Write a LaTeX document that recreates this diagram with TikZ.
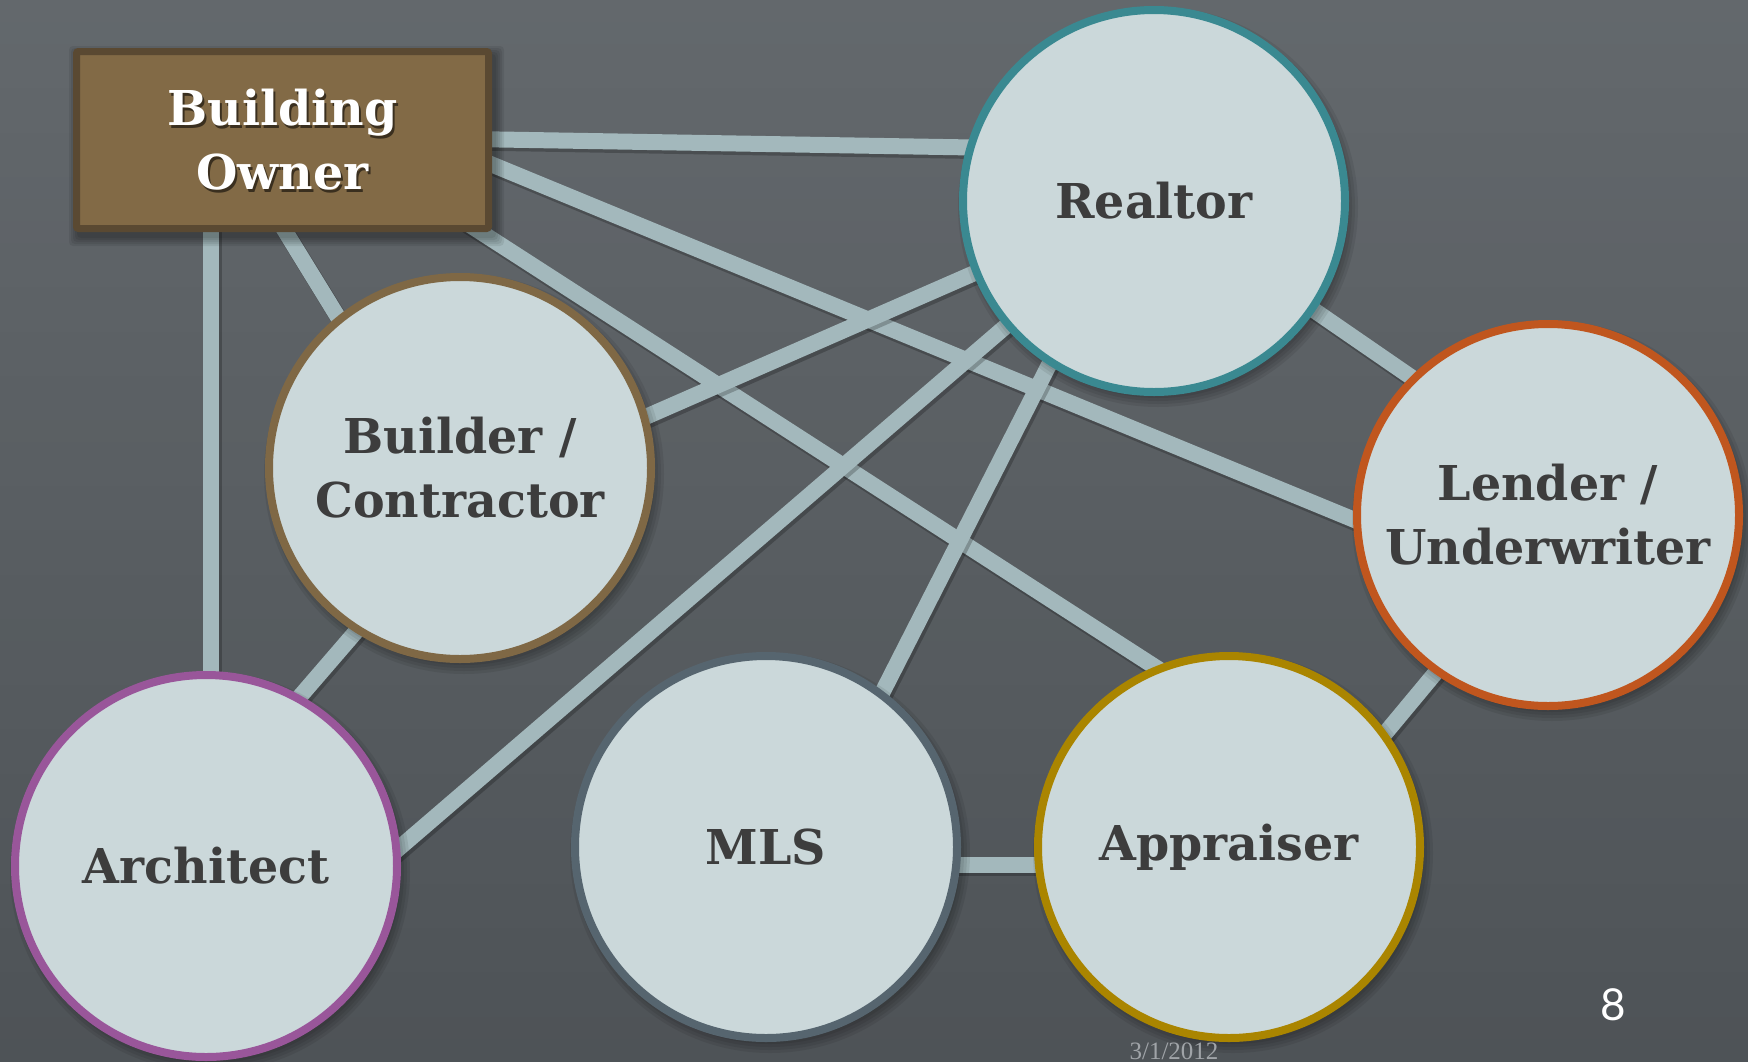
\documentclass[tikz,border=0pt]{standalone}
\usepackage{fontspec}
\setmainfont{Liberation Serif}
\newfontfamily\slabfont[FakeStretch=0.99]{DejaVu Serif}
\newfontfamily\pagefont{Lato}
\usetikzlibrary{calc}

\definecolor{bgtop}{HTML}{63686C}
\definecolor{bgbot}{HTML}{4E5357}
\definecolor{linkcol}{HTML}{A3B8BC}
\definecolor{discfill}{HTML}{CBD8DA}
\definecolor{labelcol}{HTML}{3D3D3D}
\definecolor{ownerfill}{HTML}{826A46}
\definecolor{ownerrim}{HTML}{5A4932}
\definecolor{realtorrim}{HTML}{3A8991}
\definecolor{builderrim}{HTML}{7F6845}
\definecolor{lenderrim}{HTML}{C0561E}
\definecolor{architectrim}{HTML}{99569A}
\definecolor{mlsrim}{HTML}{56656F}
\definecolor{appraiserrim}{HTML}{AA8500}
\definecolor{datecol}{HTML}{A0A4A8}

\pgfdeclarelayer{backdrop}
\pgfdeclarelayer{links}
\pgfdeclarelayer{shades}
\pgfsetlayers{backdrop,links,shades,main}

\tikzset{
  labelfont/.style={font=\slabfont\bfseries\fontsize{48}{64}\selectfont},
  disc/.style={circle, draw=#1, line width=8pt, fill=discfill,
    minimum size=382pt, inner sep=0pt, align=center, text=labelcol, labelfont},
  link/.style={line width=16pt, draw=linkcol},
  linkshade/.style={line width=17pt, draw=black, opacity=0.22,
    transform canvas={xshift=2pt, yshift=-3pt}},
  softshade/.style={fill=black, opacity=0.075},
}

% one connector: soft shade first, then the bar itself
\newcommand\joinlink[2]{%
  \draw[linkshade] #1 -- #2;
  \draw[link] #1 -- #2;}

% soft drop shadow under a round party
\newcommand\discshade[1]{%
  \foreach \k in {0,...,5}{%
    \fill[softshade] ($(#1.center)+(4,6)$) circle ({200-3*\k});}}

\begin{document}
\begin{tikzpicture}[x=1pt, y=-1pt]
\useasboundingbox (0,0) rectangle (1748,1061);

% background: dark slate, a little lighter towards the top
\begin{pgfonlayer}{backdrop}
  \foreach \i in {0,...,47}{%
    \pgfmathsetmacro\mixpct{100-\i*100/47}
    \fill[bgtop!\mixpct!bgbot] (0,\i*22.1) rectangle (1748,\i*22.1+23);
  }
\end{pgfonlayer}

% the parties
\node[draw=ownerrim, line width=7pt, fill=ownerfill, rounded corners=2pt,
  minimum width=412pt, minimum height=177pt, inner sep=0pt] (owner) at (282.5,140) {};
\node[labelfont, align=center, text=black, opacity=0.55] (ownershade)
  at ($(owner.center)+(2,3)$) {Building\\Owner};
\node[labelfont, align=center, text=white] (ownerlabel)
  at (owner.center) {Building\\Owner};

\node[disc=realtorrim]   (realtor)   at (1154,201) {Realtor};
\node[disc=builderrim]   (builder)   at (460,468)  {Builder /\\Contractor};
\node[disc=lenderrim]    (lender)    at (1548,515) {Lender /\\Underwriter};
\node[disc=architectrim] (architect) at (206,866)  {Architect};
\node[disc=mlsrim]       (mls)       at (766,847)  {MLS};
\node[disc=appraiserrim] (appraiser) at (1229,847) {Appraiser};

% drop shadows
\begin{pgfonlayer}{shades}
  \foreach \k in {0,...,4}{%
    \fill[softshade, rounded corners=4pt]
      ($(owner.north west)+({-4+2*\k},{-2+2*\k})$) rectangle
      ($(owner.south east)+({12-2*\k},{14-2*\k})$);}
  \discshade{realtor}
  \discshade{builder}
  \discshade{lender}
  \discshade{architect}
  \discshade{mls}
  \discshade{appraiser}
\end{pgfonlayer}

% connectors, running under the parties
\begin{pgfonlayer}{links}
  \joinlink{($(owner.center)+(-71.5,60)$)}{($(architect.center)+(5,-100)$)}
  \joinlink{($(owner.center)+(-16.5,60)$)}{($(builder.center)+(-95.7,-108)$)}
  \joinlink{($(builder.center)+(-76.8,132)$)}{($(architect.center)+(73.7,-146)$)}
  \joinlink{($(owner.center)+(187.5,-1)$)}{($(realtor.center)+(-104,-52.2)$)}
  \joinlink{($(owner.center)+(148.5,60)$)}{($(appraiser.center)+(-49,-164)$)}
  \joinlink{($(owner.center)+(187.5,15.5)$)}{($(lender.center)+(-148,23.7)$)}
  \joinlink{($(builder.center)+(100,-13.6)$)}{($(realtor.center)+(-104,39)$)}
  \joinlink{($(realtor.center)+(-94,78.7)$)}{($(architect.center)+(94,67.3)$)}
  \joinlink{($(realtor.center)+(-72,99)$)}{($(mls.center)+(82,-87)$)}
  \joinlink{($(realtor.center)+(136,92.7)$)}{($(lender.center)+(-108,-118)$)}
  \joinlink{($(mls.center)+(100,17.5)$)}{($(appraiser.center)+(-100,17.5)$)}
  \joinlink{($(appraiser.center)+(121,-71.4)$)}{($(lender.center)+(-78,116.3)$)}
\end{pgfonlayer}

% footer
\node[font=\fontsize{25}{30}\selectfont, text=datecol, anchor=base, inner sep=0pt]
  (date) at (1174,1059) {3/1/2012};
\node[font=\pagefont\fontsize{44}{50}\selectfont, text=white, anchor=base, inner sep=0pt]
  (pagenum) at (1613,1020) {8};
\end{tikzpicture}
\end{document}
